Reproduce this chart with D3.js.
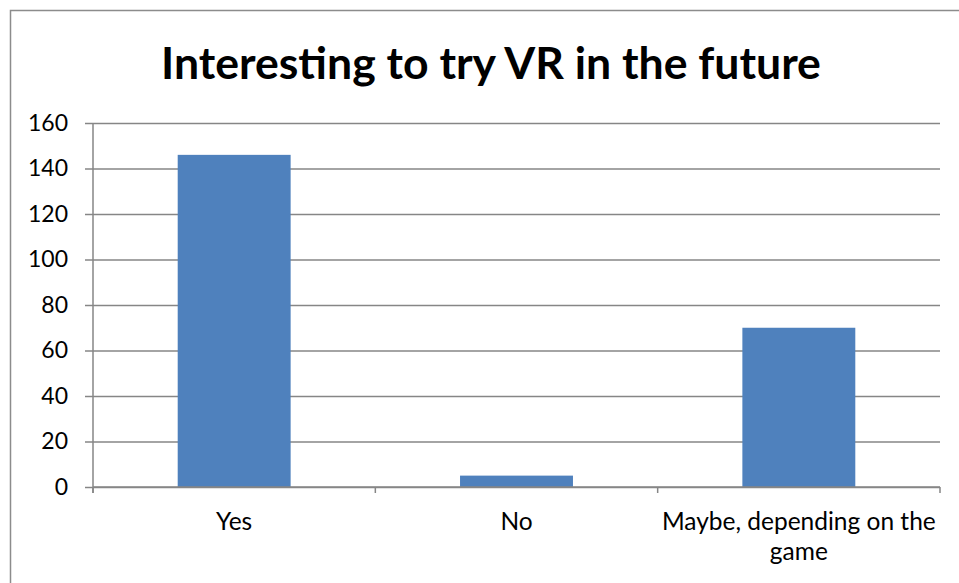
<!DOCTYPE html>
<html>
<head>
<meta charset="utf-8">
<script src="https://cdn.jsdelivr.net/npm/d3@7"></script>
<style>
  html, body { margin: 0; padding: 0; background: #fff; }
  svg { display: block; font-family: Lato, "Open Sans", sans-serif; }
</style>
</head>
<body>
<svg id="chart" width="959" height="583"></svg>
<script>
// Survey answers: would respondents like to try VR in the future
const chartTitle = "Interesting to try VR in the future";
const categories = ["Yes", "No", "Maybe, depending on the game"];
const responses = [146, 5, 70];
const yTicks = [0, 20, 40, 60, 80, 100, 120, 140, 160];

const W = 959, H = 583;
const plot = { left: 93, right: 940, top: 123, bottom: 487 };

const svg = d3.select("#chart");

svg.append("rect").attr("width", W).attr("height", H).attr("fill", "#fff");

// outer chart frame
svg.append("rect")
  .attr("x", 10.5).attr("y", 10.5)
  .attr("width", W).attr("height", H)
  .attr("fill", "none").attr("stroke", "#8c8c8c").attr("stroke-width", 1.5);

const x = d3.scaleBand()
  .domain(categories)
  .range([plot.left, plot.right])
  .paddingInner(0.6).paddingOuter(0.3);

const y = d3.scaleLinear()
  .domain([0, 160])
  .range([plot.bottom, plot.top]);

// title, sized to its box
const title = svg.append("text")
  .attr("x", 491).attr("y", 79)
  .attr("text-anchor", "middle")
  .attr("font-weight", 700)
  .attr("font-size", 40)
  .attr("fill", "#000")
  .text(chartTitle);
const tw = title.node().getComputedTextLength();
title.attr("font-size", 40 * 660 / tw);

// horizontal gridlines + y axis
const yAxis = d3.axisLeft(y)
  .tickValues(yTicks)
  .tickSize(plot.right - plot.left + 8)
  .tickPadding(17)
  .tickFormat(d3.format("d"));

const gy = svg.append("g")
  .attr("transform", `translate(${plot.right},0)`)
  .call(yAxis);
gy.select(".domain").remove();
gy.selectAll(".tick line").attr("stroke", "#868686").attr("stroke-width", 1.5);
gy.selectAll(".tick text")
  .attr("font-size", 23)
  .attr("fill", "#000")
  .attr("font-family", "Lato, sans-serif");

// vertical axis line
svg.append("line")
  .attr("x1", plot.left).attr("x2", plot.left)
  .attr("y1", plot.top).attr("y2", plot.bottom + 6)
  .attr("stroke", "#868686").attr("stroke-width", 1.5);

// bars
svg.append("g").selectAll("rect")
  .data(categories.map((c, i) => ({ c, v: responses[i] })))
  .join("rect")
  .attr("x", d => x(d.c))
  .attr("y", d => y(d.v))
  .attr("width", x.bandwidth())
  .attr("height", d => y(0) - y(d.v))
  .attr("fill", "#4f81bd");

// category axis: baseline + boundary ticks
const bounds = d3.range(categories.length + 1).map(i => plot.left + i * (plot.right - plot.left) / categories.length);
svg.append("line")
  .attr("x1", plot.left).attr("x2", plot.right)
  .attr("y1", y(0)).attr("y2", y(0))
  .attr("stroke", "#868686").attr("stroke-width", 1.5);
svg.append("g").selectAll("line")
  .data(bounds)
  .join("line")
  .attr("x1", d => d).attr("x2", d => d)
  .attr("y1", y(0)).attr("y2", y(0) + 6)
  .attr("stroke", "#868686").attr("stroke-width", 1.5);

// category labels, wrapped to the slot width
const wrapWidth = 300;
const labels = svg.append("g").selectAll("text")
  .data(categories)
  .join("text")
  .attr("x", d => x(d) + x.bandwidth() / 2)
  .attr("y", 530)
  .attr("text-anchor", "middle")
  .attr("font-size", 24.5)
  .attr("fill", "#000");

labels.each(function (d) {
  const t = d3.select(this);
  const words = d.split(" ");
  let line = [];
  let tspan = t.append("tspan").attr("x", t.attr("x")).attr("dy", 0);
  for (const w of words) {
    line.push(w);
    tspan.text(line.join(" "));
    if (tspan.node().getComputedTextLength() > wrapWidth && line.length > 1) {
      line.pop();
      tspan.text(line.join(" "));
      line = [w];
      tspan = t.append("tspan").attr("x", t.attr("x")).attr("dy", 30).text(w);
    }
  }
});
</script>
</body>
</html>
